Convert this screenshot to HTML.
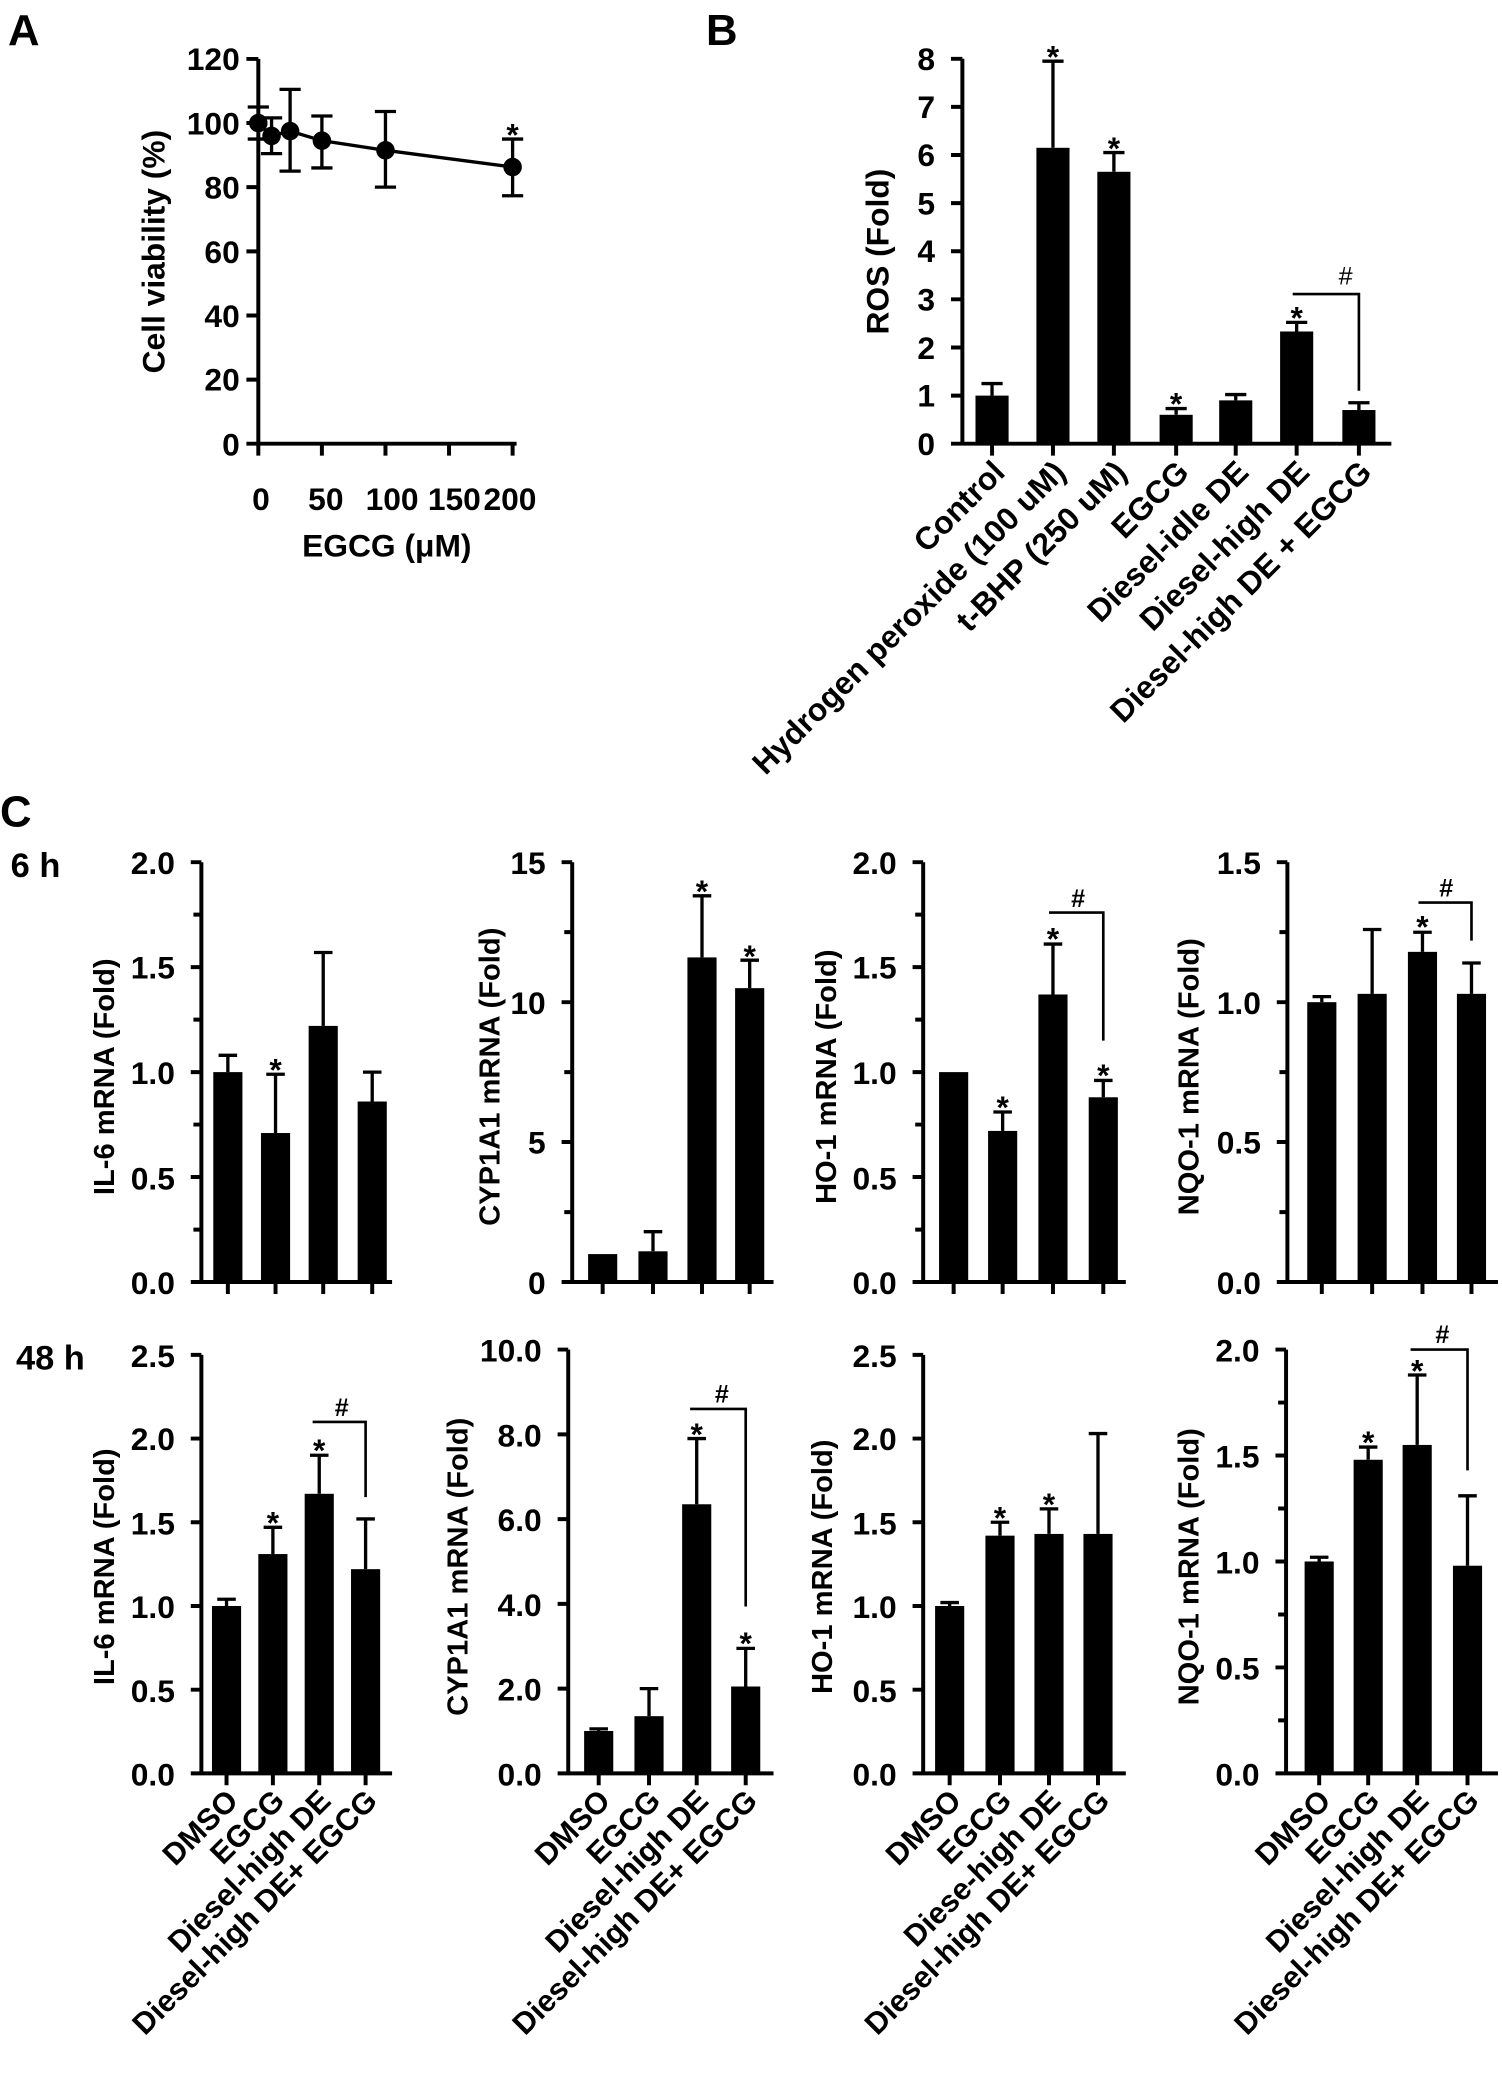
<!DOCTYPE html>
<html><head><meta charset="utf-8"><style>
html,body{margin:0;padding:0;background:#fff;}
svg{display:block;}
text{font-family:"Liberation Sans",Arial,sans-serif;font-weight:bold;fill:#000;}
.t{font-size:24px;}
.yl{font-size:22px;}
.cat{font-size:24px;}
.catc{font-size:23px;}
.st{font-size:24px;}
.hs{font-size:19px;font-weight:normal;}
</style></head><body>
<svg width="1502" height="2078" viewBox="0 0 1134 1569" xmlns="http://www.w3.org/2000/svg">
<g stroke="#000" stroke-width="3" fill="none">
<path d="M195 44.5V335M186 44.5H195M186 92.9H195M186 141.3H195M186 189.8H195M186 238.2H195M186 286.6H195M186 335H390M195 335V344M243 335V344M291 335V344M339 335V344M387 335V344"/>
<path d="M195 92.9L205 102.6L219 99L243 106.2L291 113.5L387 126.1" stroke-width="2.5"/>
<path d="M195 80.8V105M187 80.8H203M187 105H203 M205 89V116M197 89H213M197 116H213 M219 67.5V129.2M211 67.5H227M211 129.2H227 M243 87.6V126.8M235 87.6H251M235 126.8H251 M291 84.2V141.3M283 84.2H299M283 141.3H299 M387 105V147.8M379 105H395M379 147.8H395" stroke-width="2.5"/>
</g>
<g fill="#000">
<circle cx="195" cy="92.9" r="7"/><circle cx="205" cy="102.6" r="7"/><circle cx="219" cy="99" r="7"/><circle cx="243" cy="106.2" r="7"/><circle cx="291" cy="113.5" r="7"/><circle cx="387" cy="126.1" r="7"/>
</g>
<text x="6" y="34" style="font-size:33px">A</text>
<text class="st" x="387" y="110" text-anchor="middle">*</text>
<g class="t" text-anchor="end">
<text x="181" y="53">120</text><text x="181" y="101.5">100</text><text x="181" y="150">80</text><text x="181" y="198.5">60</text><text x="181" y="247">40</text><text x="181" y="295">20</text><text x="181" y="344">0</text>
</g>
<g class="t" text-anchor="middle">
<text x="197" y="385">0</text><text x="246" y="385">50</text><text x="296" y="385">100</text><text x="343" y="385">150</text><text x="385" y="385">200</text>
<text x="292" y="420">EGCG (μM)</text>
<text transform="translate(124,190) rotate(-90)">Cell viability (%)</text>
</g>

<text x="533" y="34" style="font-size:33px">B</text>
<g stroke="#000" stroke-width="3" fill="none">
<path d="M726.6 44.4V335M718 44.4H726.6M718 80.7H726.6M718 117H726.6M718 153.4H726.6M718 189.7H726.6M718 226H726.6M718 262.4H726.6M718 298.7H726.6M718 335H1050.5"/>
<path d="M749 335V344M795 335V344M841 335V344M888 335V344M933 335V344M979 335V344M1026 335V344"/>
<path stroke-width="2.5" d="M749 298.7V289.6M741 289.6H757 M795 111.6V46.2M787 46.2H803 M841 129.7V115.2M833 115.2H849 M888 313.2V308.5M880 308.5H896 M933 302.3V297.9M925 297.9H941 M979 250.3V243.4M971 243.4H987 M1026 309.6V304.1M1018 304.1H1034"/>
<path stroke-width="2" d="M976 222H1026V295"/>
</g>
<g fill="#000">
<rect x="736.5" y="298.7" width="25" height="36.3"/><rect x="782.5" y="111.6" width="25" height="223.4"/><rect x="828.5" y="129.7" width="25" height="205.3"/><rect x="875.5" y="313.2" width="25" height="21.8"/><rect x="920.5" y="302.3" width="25" height="32.7"/><rect x="966.5" y="250.3" width="25" height="84.7"/><rect x="1013.5" y="309.6" width="25" height="25.4"/>
</g>
<g class="st" text-anchor="middle">
<text x="795" y="51">*</text><text x="841" y="120">*</text><text x="888" y="313">*</text><text x="979" y="248">*</text>
</g>
<text class="hs" x="1016" y="215" text-anchor="middle">#</text>
<g class="t" text-anchor="end">
<text x="706" y="53">8</text><text x="706" y="89">7</text><text x="706" y="125.5">6</text><text x="706" y="162">5</text><text x="706" y="198">4</text><text x="706" y="234.5">3</text><text x="706" y="271">2</text><text x="706" y="307">1</text><text x="706" y="343.5">0</text>
</g>
<text class="t" text-anchor="middle" transform="translate(671,190) rotate(-90)">ROS (Fold)</text>
<g class="cat" text-anchor="end">
<text transform="translate(760,358) rotate(-45)">Control</text>
<text transform="translate(806,358) rotate(-45)">Hydrogen peroxide (100 uM)</text>
<text transform="translate(852,358) rotate(-45)">t-BHP (250 uM)</text>
<text transform="translate(899,358) rotate(-45)">EGCG</text>
<text transform="translate(944,358) rotate(-45)">Diesel-idle DE</text>
<text transform="translate(990,358) rotate(-45)">Diesel-high DE</text>
<text transform="translate(1037,358) rotate(-45)">Diesel-high DE + EGCG</text>
</g>

<text x="0" y="624" style="font-size:33px">C</text>
<text x="8" y="662" style="font-size:26px">6 h</text>
<text x="12" y="1034" style="font-size:26px">48 h</text>

<g stroke="#000" stroke-width="3" fill="none">
<path d="M152 651V968M144 651H152M144 730.2H152M144 809.5H152M144 888.7H152M144 968H296M146 690.6H152M146 769.9H152M146 849.1H152M146 928.4H152"/>
<path d="M172 968V977M208 968V977M244 968V977M281 968V977"/>
<path d="M432 651V968M424 651H432M424 756.7H432M424 862.3H432M424 968H584M426 703.8H432M426 809.5H432M426 915.2H432"/>
<path d="M455 968V977M493 968V977M530 968V977M566 968V977"/>
<path d="M697 651V968M689 651H697M689 730.2H697M689 809.5H697M689 888.7H697M689 968H850M691 690.6H697M691 769.9H697M691 849.1H697M691 928.4H697"/>
<path d="M720 968V977M757 968V977M795 968V977M833 968V977"/>
<path d="M972 651V968M964 651H972M964 756.7H972M964 862.3H972M964 968H1131M966 703.8H972M966 809.5H972M966 915.2H972"/>
<path d="M998 968V977M1036 968V977M1074 968V977M1111 968V977"/>
<path d="M152 1023V1339M144 1023H152M144 1086.2H152M144 1149.4H152M144 1212.6H152M144 1275.8H152M144 1339H296"/>
<path d="M171 1339V1348M206 1339V1348M241 1339V1348M276 1339V1348"/>
<path d="M429 1019V1339M421 1019H429M421 1083H429M421 1147H429M421 1211H429M421 1275H429M421 1339H584"/>
<path d="M452 1339V1348M490 1339V1348M526 1339V1348M563 1339V1348"/>
<path d="M697 1023V1339M689 1023H697M689 1086.2H697M689 1149.4H697M689 1212.6H697M689 1275.8H697M689 1339H850"/>
<path d="M717 1339V1348M755 1339V1348M792 1339V1348M829 1339V1348"/>
<path d="M971 1019V1339M963 1019H971M963 1099H971M963 1179H971M963 1259H971M963 1339H1131M965 1059H971M965 1139H971M965 1219H971M965 1299H971"/>
<path d="M996 1339V1348M1033 1339V1348M1070 1339V1348M1108 1339V1348"/>
<g stroke-width="2.5">
<path d="M172 809.5V796.8M165 796.8H179 M208 855.5V811.1M201 811.1H215 M244 774.6V719.2M237 719.2H251 M281 831.7V809.5M274 809.5H288"/>
<path d="M493 944.8V930M486 930H500 M530 722.9V676.4M523 676.4H537 M566 746.1V725M559 725H573"/>
<path d="M757 853.9V839.6M750 839.6H764 M795 750.9V712.8M788 712.8H802 M833 828.5V815.8M826 815.8H840"/>
<path d="M998 756.7V752.5M991 752.5H1005 M1036 750.4V701.8M1029 701.8H1043 M1074 718.7V703.9M1067 703.9H1081 M1111 750.4V727.1M1104 727.1H1118"/>
<path d="M171 1212.6V1207.5M164 1207.5H178 M206 1173.4V1153.2M199 1153.2H213 M241 1127.9V1098.8M234 1098.8H248 M276 1184.8V1146.9M269 1146.9H283"/>
<path d="M452 1307V1305.4M445 1305.4H459 M490 1295.8V1275M483 1275H497 M526 1135.8V1086.2M519 1086.2H533 M563 1273.4V1244.6M556 1244.6H570"/>
<path d="M717 1212.6V1210M710 1210H724 M755 1159.5V1149.4M748 1149.4H762 M792 1158.2V1139.3M785 1139.3H799 M829 1158.2V1082.4M822 1082.4H836"/>
<path d="M996 1179V1175.8M989 1175.8H1003 M1033 1102.2V1092.6M1026 1092.6H1040 M1070 1091V1038.2M1063 1038.2H1077 M1108 1182.2V1129.4M1101 1129.4H1115"/>
</g>
<g stroke-width="2">
<path d="M792 689H833V785.7"/>
<path d="M1071 681.5H1111V710.2"/>
<path d="M236 1073.6H276V1130.4"/>
<path d="M521 1063.8H563V1213"/>
<path d="M1065 1019H1108V1110.2"/>
</g>
</g>

<g fill="#000">
<rect x="161" y="809.5" width="22" height="158.5"/><rect x="197" y="855.5" width="22" height="112.5"/><rect x="233" y="774.6" width="22" height="193.4"/><rect x="270" y="831.7" width="22" height="136.3"/>
<rect x="444" y="946.9" width="22" height="21.1"/><rect x="482" y="944.8" width="22" height="23.2"/><rect x="519" y="722.9" width="22" height="245.1"/><rect x="555" y="746.1" width="22" height="221.9"/>
<rect x="709" y="809.5" width="22" height="158.5"/><rect x="746" y="853.9" width="22" height="114.1"/><rect x="784" y="750.9" width="22" height="217.1"/><rect x="822" y="828.5" width="22" height="139.5"/>
<rect x="987" y="756.7" width="22" height="211.3"/><rect x="1025" y="750.4" width="22" height="217.6"/><rect x="1063" y="718.7" width="22" height="249.3"/><rect x="1100" y="750.4" width="22" height="217.6"/>
<rect x="160" y="1212.6" width="22" height="126.4"/><rect x="195" y="1173.4" width="22" height="165.6"/><rect x="230" y="1127.9" width="22" height="211.1"/><rect x="265" y="1184.8" width="22" height="154.2"/>
<rect x="441" y="1307" width="22" height="32"/><rect x="479" y="1295.8" width="22" height="43.2"/><rect x="515" y="1135.8" width="22" height="203.2"/><rect x="552" y="1273.4" width="22" height="65.6"/>
<rect x="706" y="1212.6" width="22" height="126.4"/><rect x="744" y="1159.5" width="22" height="179.5"/><rect x="781" y="1158.2" width="22" height="180.8"/><rect x="818" y="1158.2" width="22" height="180.8"/>
<rect x="985" y="1179" width="22" height="160"/><rect x="1022" y="1102.2" width="22" height="236.8"/><rect x="1059" y="1091" width="22" height="248"/><rect x="1097" y="1182.2" width="22" height="156.8"/>
</g>

<g class="st" text-anchor="middle">
<text x="208" y="816">*</text>
<text x="530" y="681">*</text><text x="566" y="730">*</text>
<text x="757" y="844">*</text><text x="795" y="717">*</text><text x="833" y="820">*</text>
<text x="1074" y="708">*</text>
<text x="206" y="1158">*</text><text x="241" y="1103">*</text>
<text x="526" y="1091">*</text><text x="563" y="1249">*</text>
<text x="755" y="1154">*</text><text x="792" y="1144">*</text>
<text x="1033" y="1097">*</text><text x="1070" y="1043">*</text>
</g>
<g class="hs" text-anchor="middle">
<text x="814" y="685">#</text><text x="1092" y="677">#</text><text x="258" y="1069">#</text><text x="545" y="1059">#</text><text x="1089" y="1014">#</text>
</g>

<g class="t" text-anchor="end">
<text x="132" y="660">2.0</text><text x="132" y="739">1.5</text><text x="132" y="818.5">1.0</text><text x="132" y="898">0.5</text><text x="132" y="977">0.0</text>
<text x="412" y="660">15</text><text x="412" y="871">5</text><text x="412" y="765.5">10</text><text x="412" y="977">0</text>
<text x="677" y="660">2.0</text><text x="677" y="739">1.5</text><text x="677" y="818.5">1.0</text><text x="677" y="898">0.5</text><text x="677" y="977">0.0</text>
<text x="952" y="660">1.5</text><text x="952" y="765.5">1.0</text><text x="952" y="871">0.5</text><text x="952" y="977">0.0</text>
<text x="132" y="1032">2.5</text><text x="132" y="1095">2.0</text><text x="132" y="1158.5">1.5</text><text x="132" y="1221.5">1.0</text><text x="132" y="1285">0.5</text><text x="132" y="1348">0.0</text>
<text x="409" y="1028">10.0</text><text x="409" y="1092">8.0</text><text x="409" y="1156">6.0</text><text x="409" y="1220">4.0</text><text x="409" y="1284">2.0</text><text x="409" y="1348">0.0</text>
<text x="677" y="1032">2.5</text><text x="677" y="1095">2.0</text><text x="677" y="1158.5">1.5</text><text x="677" y="1221.5">1.0</text><text x="677" y="1285">0.5</text><text x="677" y="1348">0.0</text>
<text x="951" y="1028">2.0</text><text x="951" y="1108">1.5</text><text x="951" y="1188">1.0</text><text x="951" y="1268">0.5</text><text x="951" y="1348">0.0</text>
</g>
<g class="yl" text-anchor="middle">
<text transform="translate(86,813) rotate(-90)">IL-6 mRNA (Fold)</text>
<text transform="translate(377,813) rotate(-90)">CYP1A1 mRNA (Fold)</text>
<text transform="translate(631,813) rotate(-90)">HO-1 mRNA (Fold)</text>
<text transform="translate(905,813) rotate(-90)">NQO-1 mRNA (Fold)</text>
<text transform="translate(86,1183) rotate(-90)">IL-6 mRNA (Fold)</text>
<text transform="translate(353,1183) rotate(-90)">CYP1A1 mRNA (Fold)</text>
<text transform="translate(628,1183) rotate(-90)">HO-1 mRNA (Fold)</text>
<text transform="translate(905,1183) rotate(-90)">NQO-1 mRNA (Fold)</text>
</g>
<g class="catc" text-anchor="end">
<text transform="translate(181,1361) rotate(-45)">DMSO</text>
<text transform="translate(216,1361) rotate(-45)">EGCG</text>
<text transform="translate(251,1361) rotate(-45)">Diesel-high DE</text>
<text transform="translate(286,1361) rotate(-45)">Diesel-high DE+ EGCG</text>
<text transform="translate(462,1361) rotate(-45)">DMSO</text>
<text transform="translate(500,1361) rotate(-45)">EGCG</text>
<text transform="translate(536,1361) rotate(-45)">Diesel-high DE</text>
<text transform="translate(573,1361) rotate(-45)">Diesel-high DE+ EGCG</text>
<text transform="translate(727,1361) rotate(-45)">DMSO</text>
<text transform="translate(765,1361) rotate(-45)">EGCG</text>
<text transform="translate(802,1361) rotate(-45)">Diese-high DE</text>
<text transform="translate(839,1361) rotate(-45)">Diesel-high DE+ EGCG</text>
<text transform="translate(1006,1361) rotate(-45)">DMSO</text>
<text transform="translate(1043,1361) rotate(-45)">EGCG</text>
<text transform="translate(1080,1361) rotate(-45)">Diesel-high DE</text>
<text transform="translate(1118,1361) rotate(-45)">Diesel-high DE+ EGCG</text>
</g>
</svg>
</body></html>
